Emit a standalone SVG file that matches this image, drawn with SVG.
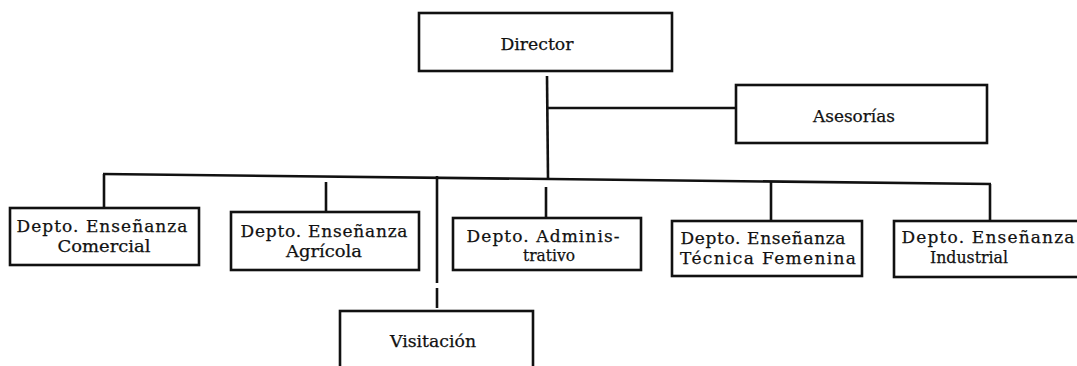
<svg xmlns="http://www.w3.org/2000/svg" width="1077" height="366" viewBox="0 0 1077 366">
<style>
.box{fill:#fff;stroke:#111;stroke-width:2.6}
.ln{stroke:#111;stroke-width:2.6;fill:none;stroke-linecap:butt}
text{font-family:"DejaVu Serif","Liberation Serif",serif;font-size:17px;fill:#111;stroke:#111;stroke-width:0.25;text-anchor:middle}
</style>
<rect width="1077" height="366" fill="#fff"/>
<g id="connectors">
<line class="ln" x1="547" y1="76" x2="548" y2="178"/>
<line class="ln" x1="547" y1="108" x2="736" y2="108"/>
<line class="ln" x1="103" y1="174" x2="991" y2="184"/>
<line class="ln" x1="104" y1="174" x2="104" y2="207"/>
<line class="ln" x1="326" y1="182" x2="326" y2="211"/>
<line class="ln" x1="437" y1="176" x2="437" y2="283"/>
<line class="ln" x1="437" y1="288" x2="437" y2="308"/>
<line class="ln" x1="546" y1="187" x2="546" y2="217"/>
<line class="ln" x1="771" y1="182" x2="771" y2="221"/>
<line class="ln" x1="990" y1="184" x2="990" y2="221"/>
</g>
<g id="director">
<rect class="box" x="419" y="13" width="253" height="58"/>
<text x="537" y="50" textLength="73" lengthAdjust="spacingAndGlyphs">Director</text>
</g>
<g id="asesorias">
<rect class="box" x="736" y="85" width="251" height="58"/>
<text x="854" y="122" textLength="82" lengthAdjust="spacingAndGlyphs">Asesorías</text>
</g>
<g id="comercial">
<rect class="box" x="10" y="208" width="189" height="57"/>
<text x="102" y="232" textLength="171" lengthAdjust="spacing">Depto.  Enseñanza</text>
<text x="104" y="252" textLength="93" lengthAdjust="spacingAndGlyphs">Comercial</text>
</g>
<g id="agricola">
<rect class="box" x="231" y="212" width="188" height="58"/>
<text x="324" y="237" textLength="167" lengthAdjust="spacing">Depto. Enseñanza</text>
<text x="324" y="257" textLength="76" lengthAdjust="spacingAndGlyphs">Agrícola</text>
</g>
<g id="visitacion">
<rect class="box" x="340" y="311" width="193" height="70"/>
<text x="433" y="347" textLength="86" lengthAdjust="spacingAndGlyphs">Visitación</text>
</g>
<g id="administrativo">
<rect class="box" x="453" y="218" width="188" height="52"/>
<text x="543" y="242" textLength="153" lengthAdjust="spacing">Depto. Adminis-</text>
<text x="549" y="261" textLength="52" lengthAdjust="spacingAndGlyphs">trativo</text>
</g>
<g id="femenina">
<rect class="box" x="672" y="221" width="190" height="55"/>
<text x="763" y="244" textLength="165" lengthAdjust="spacing">Depto. Enseñanza</text>
<text x="768" y="264" textLength="176" lengthAdjust="spacing">Técnica Femenina</text>
</g>
<g id="industrial">
<rect class="box" x="894" y="221" width="195" height="56"/>
<text x="988" y="243" textLength="173" lengthAdjust="spacing">Depto. Enseñanza</text>
<text x="969" y="263" textLength="78" lengthAdjust="spacingAndGlyphs">Industrial</text>
</g>
</svg>
